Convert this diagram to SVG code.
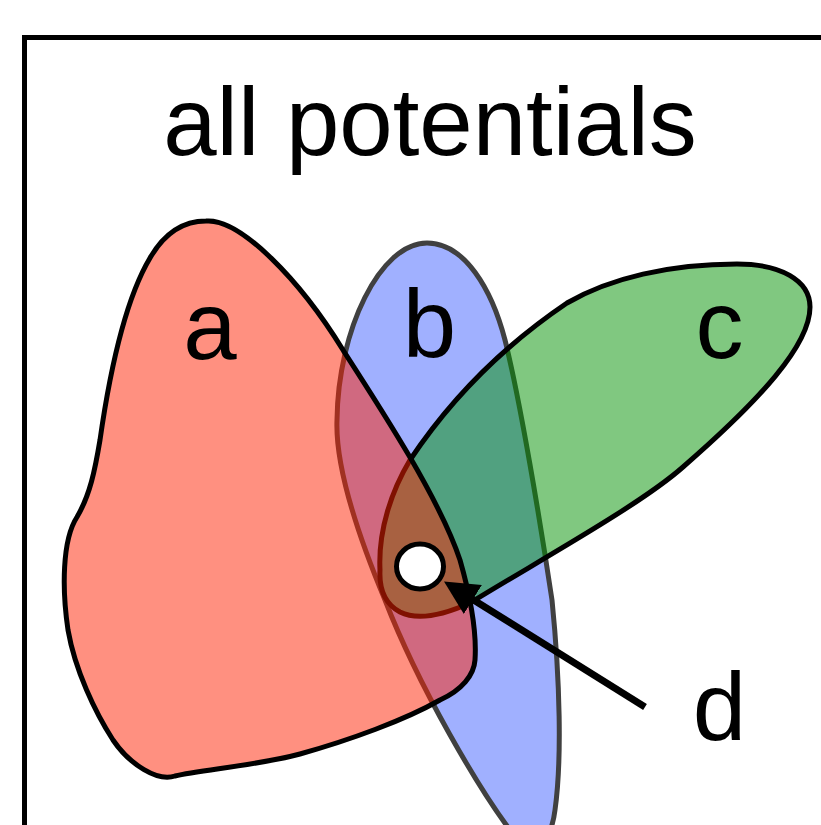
<svg xmlns="http://www.w3.org/2000/svg" width="821" height="825" viewBox="0 0 821 825">
<style>
  .lbl { font-family: "Liberation Sans", Arial, Helvetica, sans-serif; font-size: 96px; fill: #000; text-anchor: middle; }
  .blob { stroke-width: 5; stroke-linejoin: round; }
</style>
<defs>
  <marker id="ah" markerUnits="userSpaceOnUse" viewBox="0 0 34 34" markerWidth="34" markerHeight="34" refX="1" refY="17" orient="auto">
    <path d="M0,0 L34,17 L0,34 Z" fill="#000"/>
  </marker>
</defs>
<rect width="821" height="825" fill="#fff"/>
<path d="M24.5,830 V37.5 H830" fill="none" stroke="#000" stroke-width="5"/>
<text class="lbl" x="430" y="155">all potentials</text>

<g id="node-b">
  <path class="blob" d="M427,243 C465,243 492,290 505,340 C520,400 540,520 552,600 C560,680 562,760 555,810 C550,850 530,850 510,830 C480,790 420,690 385,600 C360,540 335,470 337,420 C338,330 380,243 427,243 Z" fill="rgb(65,97,255)" fill-opacity="0.5" stroke="#404040" stroke-width="4.5"/>
  <text class="lbl" x="429.5" y="357">b</text>
</g>
<g id="node-c">
  <path class="blob" d="M380,570 C378,530 392,490 410,460 C440,415 490,355 567,303 C610,278 670,264 737,264 C780,264 810,280 810,307 C810,345 760,400 683,467 C640,505 540,560 470,603 C450,612 420,622 400,612 C385,604 379,590 380,570 Z" fill="rgb(1,145,1)" fill-opacity="0.5" stroke="#000"/>
  <text class="lbl" x="719.5" y="358">c</text>
</g>
<g id="node-a">
  <path class="blob" d="M206,221 C240,218 300,280 343,350 C385,415 440,500 460,560 C470,595 477,630 475,660 C474,675 462,690 440,700 C405,720 350,740 300,754 C260,765 200,770 175,776 C158,782 130,765 113,740 C95,712 75,670 68,630 C62,590 62,540 77,517 C90,495 95,470 100,440 C110,370 125,300 150,258 C165,232 185,221 206,221 Z" fill="rgb(255,33,1)" fill-opacity="0.5" stroke="#000"/>
  <text class="lbl" x="210" y="359">a</text>
</g>
<g id="node-d">
  <ellipse cx="420" cy="566.5" rx="23.5" ry="22.5" fill="#fff" stroke="#000" stroke-width="5"/>
  <text class="lbl" x="719.5" y="740">d</text>
</g>
<g id="connectors">
  <line x1="645" y1="707" x2="472" y2="599" stroke="#000" stroke-width="7" marker-end="url(#ah)"/>
</g>
</svg>
